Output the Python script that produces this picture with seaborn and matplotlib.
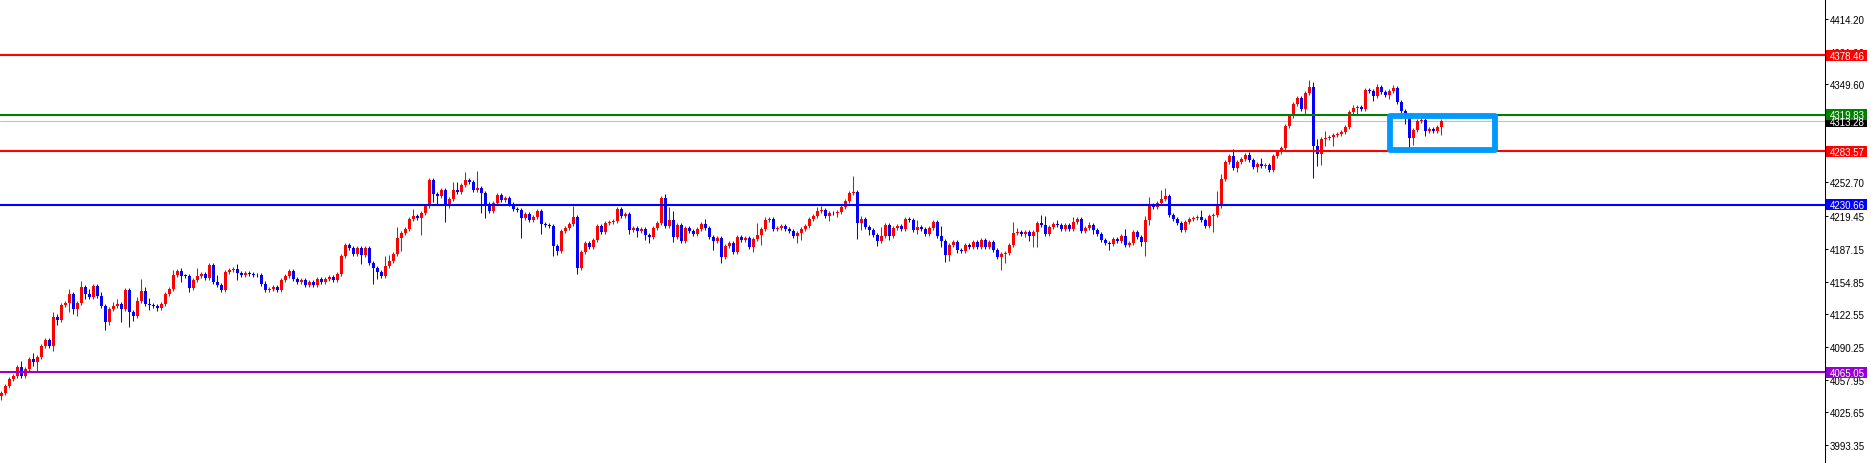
import numpy as np
import pandas as pd
import matplotlib
matplotlib.use('Agg')
import matplotlib.pyplot as plt
import matplotlib.transforms as mtransforms
from matplotlib.patches import Rectangle
import seaborn as sns

# closing prices, one per bar (oldest first)
closes = [
    4044.7, 4051.6, 4058.6, 4061.5, 4070.4, 4061.5, 4068.4, 4078.3, 4075.4, 4080.3,
    4091.2, 4097.1, 4091.2, 4119.8, 4116.9, 4131.7, 4133.6, 4142.5, 4127.7, 4133.6,
    4149.5, 4142.5, 4139.6, 4150.4, 4140.6, 4130.7, 4114.9, 4127.7, 4130.7, 4132.7,
    4127.7, 4146.5, 4124.8, 4120.8, 4135.6, 4145.5, 4132.7, 4131.7, 4130.7, 4128.7,
    4132.7, 4142.5, 4147.5, 4161.3, 4165.3, 4160.3, 4160.0, 4148.5, 4156.4, 4160.3,
    4162.3, 4158.3, 4171.2, 4154.4, 4151.4, 4146.5, 4164.3, 4166.3, 4167.2, 4163.3,
    4161.3, 4163.3, 4162.3, 4161.6, 4160.9, 4152.4, 4146.5, 4147.5, 4149.5, 4146.5,
    4156.4, 4160.3, 4165.3, 4157.4, 4154.4, 4156.4, 4151.4, 4154.4, 4151.4, 4157.4,
    4154.4, 4157.4, 4159.4, 4156.4, 4162.3, 4180.1, 4191.0, 4188.0, 4182.1, 4188.0,
    4181.1, 4188.0, 4173.2, 4168.2, 4164.3, 4160.3, 4170.2, 4175.1, 4182.1, 4197.9,
    4202.8, 4206.8, 4216.6, 4219.6, 4217.6, 4222.6, 4229.5, 4255.2, 4241.3, 4239.4,
    4245.3, 4229.5, 4236.4, 4245.3, 4243.3, 4250.2, 4255.2, 4253.2, 4245.3, 4247.3,
    4242.3, 4231.5, 4224.5, 4232.4, 4240.4, 4235.4, 4237.4, 4231.5, 4226.5, 4225.5,
    4217.6, 4221.6, 4215.6, 4218.6, 4224.5, 4211.7, 4210.7, 4209.7, 4190.0, 4185.0,
    4204.8, 4207.7, 4211.7, 4218.6, 4168.2, 4184.0, 4192.9, 4189.0, 4195.9, 4209.7,
    4203.8, 4212.7, 4213.7, 4214.7, 4226.5, 4219.6, 4221.6, 4205.8, 4207.7, 4204.8,
    4206.8, 4200.8, 4198.9, 4207.7, 4212.7, 4237.4, 4209.7, 4215.6, 4198.9, 4210.7,
    4194.9, 4207.7, 4204.8, 4201.8, 4206.8, 4211.7, 4207.7, 4198.9, 4194.9, 4197.9,
    4179.1, 4190.0, 4192.9, 4184.0, 4198.9, 4195.9, 4197.9, 4189.0, 4196.9, 4200.8,
    4206.8, 4215.6, 4216.6, 4206.8, 4207.7, 4209.7, 4206.8, 4204.8, 4199.8, 4202.8,
    4206.8, 4209.7, 4216.6, 4219.6, 4224.5, 4225.5, 4219.6, 4222.6, 4222.1, 4223.5,
    4228.5, 4234.4, 4242.3, 4243.3, 4212.7, 4216.6, 4208.7, 4205.8, 4200.8, 4194.9,
    4199.8, 4210.7, 4199.8, 4207.7, 4209.7, 4206.8, 4216.6, 4215.6, 4205.8, 4208.7,
    4206.8, 4201.8, 4207.7, 4213.7, 4199.8, 4194.9, 4181.1, 4191.0, 4193.9, 4186.0,
    4185.0, 4191.0, 4189.0, 4193.9, 4189.0, 4195.9, 4189.0, 4193.9, 4186.0, 4179.1,
    4182.1, 4183.0, 4191.0, 4202.8, 4203.8, 4201.8, 4203.8, 4199.8, 4203.8, 4212.7,
    4210.7, 4201.8, 4208.7, 4211.7, 4210.7, 4206.8, 4210.7, 4206.8, 4213.7, 4216.6,
    4204.8, 4207.7, 4210.7, 4205.8, 4201.8, 4195.9, 4192.9, 4191.9, 4196.9, 4194.9,
    4199.8, 4191.0, 4192.9, 4203.8, 4198.9, 4193.9, 4215.6, 4230.5, 4228.5, 4232.4,
    4236.4, 4239.4, 4220.6, 4216.6, 4212.7, 4205.8, 4213.7, 4216.6, 4217.6, 4218.6,
    4215.6, 4209.7, 4219.6, 4220.6, 4229.5, 4256.2, 4273.0, 4278.9, 4267.0, 4273.0,
    4275.9, 4279.9, 4274.9, 4268.0, 4271.0, 4269.0, 4270.0, 4265.1, 4278.9, 4282.8,
    4286.8, 4308.5, 4318.4, 4330.3, 4336.2, 4325.3, 4341.1, 4347.1, 4288.8, 4280.9,
    4295.7, 4296.7, 4297.7, 4299.6, 4300.6, 4302.6, 4307.5, 4322.4, 4326.3, 4327.3,
    4325.3, 4344.1, 4343.1, 4338.2, 4347.1, 4342.1, 4339.2, 4343.1, 4346.1, 4332.2,
    4323.3, 4316.4, 4296.7, 4304.6, 4313.5, 4314.4, 4303.6, 4305.6, 4303.6, 4307.5,
    4313.3,
]
first_open = 4041.8

# shadow length above / below each body (price points)
upper_wick = [
    2, 2, 2, 2, 2, 6, 2, 2, 6, 2, 2, 2, 2, 5, 3, 2, 2, 5, 2, 2,
    6, 2, 5, 2, 2, 4, 2, 2, 4, 5, 2, 2, 2, 2, 4, 12, 4, 6, 2, 2,
    2, 2, 2, 5, 2, 3, 2, 2, 2, 8, 2, 2, 2, 2, 7, 2, 2, 2, 2, 5,
    2, 2, 2, 2, 2, 2, 3, 2, 2, 2, 2, 2, 2, 2, 2, 2, 2, 2, 2, 2,
    2, 2, 2, 2, 2, 2, 2, 2, 2, 2, 2, 2, 2, 2, 2, 2, 10, 6, 2, 11,
    2, 2, 2, 7, 2, 2, 2, 2, 2, 2, 2, 2, 2, 8, 8, 2, 8, 2, 2, 17,
    2, 2, 2, 2, 2, 2, 2, 2, 2, 2, 2, 2, 2, 2, 2, 2, 2, 2, 2, 2,
    2, 2, 2, 11, 2, 2, 2, 2, 2, 2, 2, 2, 2, 2, 2, 2, 2, 2, 2, 2,
    2, 2, 2, 2, 2, 2, 4, 13, 9, 2, 2, 2, 2, 2, 2, 2, 5, 2, 2, 2,
    2, 2, 2, 2, 2, 2, 2, 2, 2, 12, 2, 3, 2, 2, 2, 2, 2, 2, 2, 2,
    2, 2, 2, 2, 4, 4, 2, 2, 2, 2, 2, 2, 2, 16, 2, 3, 2, 2, 2, 2,
    9, 2, 2, 2, 2, 2, 2, 2, 2, 7, 2, 2, 2, 2, 2, 10, 2, 2, 2, 2,
    2, 2, 2, 2, 2, 2, 2, 2, 2, 2, 2, 2, 2, 11, 4, 2, 2, 2, 2, 2,
    8, 9, 2, 2, 4, 2, 2, 2, 5, 2, 2, 2, 3, 2, 2, 2, 2, 2, 2, 2,
    2, 7, 2, 2, 2, 2, 4, 8, 2, 2, 9, 8, 2, 2, 2, 2, 2, 2, 2, 2,
    7, 2, 2, 2, 15, 5, 2, 2, 7, 2, 2, 2, 3, 2, 2, 6, 2, 2, 2, 2,
    2, 2, 2, 2, 2, 2, 2, 7, 5, 7, 2, 7, 2, 2, 2, 2, 2, 2, 3, 2,
    2, 2, 2, 2, 3, 2, 2, 2, 3, 2, 2, 2, 2, 2, 2, 2, 2, 2, 2, 2,
    2,
]
lower_wick = [
    4, 2, 2, 2, 2, 2, 2, 2, 4, 9, 2, 2, 2, 5, 5, 2, 2, 9, 5, 7,
    2, 5, 2, 2, 2, 2, 8, 3, 2, 2, 13, 2, 15, 5, 2, 2, 2, 5, 2, 3,
    2, 2, 2, 2, 2, 6, 2, 4, 2, 2, 2, 2, 2, 2, 2, 2, 2, 2, 2, 7,
    2, 2, 2, 2, 2, 2, 2, 2, 2, 2, 2, 2, 2, 2, 2, 2, 2, 2, 2, 2,
    2, 2, 2, 2, 2, 2, 2, 2, 2, 2, 9, 2, 2, 16, 7, 2, 2, 2, 2, 2,
    13, 2, 2, 2, 2, 17, 2, 2, 8, 8, 2, 16, 2, 2, 2, 2, 2, 2, 2, 2,
    20, 14, 2, 2, 2, 2, 2, 2, 2, 2, 20, 2, 2, 2, 2, 10, 2, 2, 10, 4,
    2, 2, 2, 2, 6, 2, 2, 2, 2, 2, 2, 2, 2, 2, 2, 2, 2, 4, 2, 6,
    2, 5, 6, 2, 2, 2, 2, 2, 5, 2, 2, 2, 2, 2, 2, 2, 2, 2, 9, 2,
    6, 2, 2, 2, 2, 2, 2, 2, 5, 2, 10, 2, 2, 2, 2, 2, 2, 2, 2, 7,
    7, 2, 2, 2, 2, 2, 2, 5, 2, 4, 2, 2, 2, 2, 16, 7, 2, 5, 2, 5,
    2, 2, 4, 2, 2, 2, 2, 2, 2, 4, 2, 2, 2, 2, 2, 6, 7, 6, 2, 3,
    2, 2, 2, 2, 2, 2, 2, 2, 2, 2, 13, 9, 2, 2, 2, 2, 3, 5, 11, 15,
    2, 2, 2, 2, 2, 2, 2, 2, 2, 2, 2, 2, 2, 4, 2, 2, 2, 6, 2, 2,
    2, 2, 2, 2, 2, 4, 14, 5, 2, 2, 2, 2, 2, 2, 2, 2, 2, 2, 2, 2,
    2, 2, 2, 16, 2, 2, 2, 2, 2, 4, 2, 2, 2, 2, 5, 2, 2, 2, 2, 2,
    2, 2, 2, 2, 2, 2, 5, 2, 32, 12, 11, 7, 2, 9, 2, 2, 2, 2, 2, 7,
    2, 2, 2, 5, 2, 2, 2, 4, 2, 2, 2, 6, 10, 7, 2, 2, 5, 2, 2, 2,
    8,
]

# horizontal levels drawn on the chart
level_prices = [4378.46, 4319.83, 4283.57, 4230.66, 4065.05]
level_colors = ['#FF0000', '#008000', '#FF0000', '#0000FF', '#9400D3']
current_price = 4313.28

# right price scale
tick_values = [4414.20, 4381.90, 4349.60, 4317.30, 4285.00, 4252.70, 4219.45,
               4187.15, 4154.85, 4122.55, 4090.25, 4057.95, 4025.65, 3993.35]

# highlighted zone (bar index / price)
box_bars = (347.2, 373.4)
box_prices = (4284.8, 4318.4)

df = pd.DataFrame({'close': closes})
df['open'] = [first_open] + closes[:-1]
df['high'] = df[['open', 'close']].max(axis=1) + upper_wick
df['low'] = df[['open', 'close']].min(axis=1) - lower_wick
df['bar'] = np.arange(len(df))
df['color'] = np.where(df['close'] >= df['open'], '#FF0000', '#0000FF')

sns.set_theme(style='white')
plt.rcParams['font.family'] = ['Liberation Sans', 'DejaVu Sans']

W, H = 1871, 464
fig = plt.figure(figsize=(W / 100, H / 100), dpi=100)
ax = fig.add_axes([0, 0, 1825 / W, 1])
ax.set_facecolor('white')

ymax, ymin = 4433.96, 3975.56
ax.set_ylim(ymin, ymax)
ax.set_xlim(-0.333, 455.9)
px = (ymax - ymin) / H  # price per pixel

# candles
ax.vlines(df['bar'], df['low'], df['high'], colors=df['color'],
          linewidth=0.75, zorder=2)
body = (df['close'] - df['open']).abs().clip(lower=0.8)
ax.bar(df['bar'], body, bottom=df[['open', 'close']].min(axis=1),
       width=0.75, color=df['color'], linewidth=0, zorder=3)

# levels
ax.axhline(current_price, color='#C0C0C0', lw=0.75, zorder=1)
for p, c in zip(level_prices, level_colors):
    ax.axhline(p, color=c, lw=1.5, zorder=4)

# highlight box
ax.add_patch(Rectangle((box_bars[0], box_prices[0]),
                       box_bars[1] - box_bars[0], box_prices[1] - box_prices[0],
                       fill=False, edgecolor='#0099FF', lw=4.2,
                       joinstyle='round', zorder=6))

# axis styling
sns.despine(ax=ax, left=True, top=True, bottom=True, right=False)
ax.spines['right'].set_color('black')
ax.spines['right'].set_linewidth(0.75)
ax.set_xticks([])
ax.yaxis.tick_right()
ax.set_yticks(tick_values)
ax.set_yticklabels(['%.2f' % v for v in tick_values])
ax.tick_params(axis='y', which='major', direction='out', length=2.2, width=0.75,
               color='black', pad=1.5, labelsize=7, labelcolor='black', right=True)

# price tags on the scale
trans = mtransforms.blended_transform_factory(ax.transAxes, ax.transData)
tags = [(current_price, 'black')] + list(zip(level_prices, level_colors))
for p, c in tags:
    ax.add_patch(Rectangle((1 + 1 / 1825, p - 5.5 * px), 41 / 1825, 11 * px,
                           transform=trans, facecolor=c, edgecolor='none',
                           clip_on=False, zorder=7))
    ax.text(1 + 5 / 1825, p - 0.5 * px, '%.2f' % p, transform=trans,
            color='white', fontsize=7, ha='left', va='center',
            clip_on=False, zorder=8)

fig.savefig('out.png', dpi=100, facecolor='white')
